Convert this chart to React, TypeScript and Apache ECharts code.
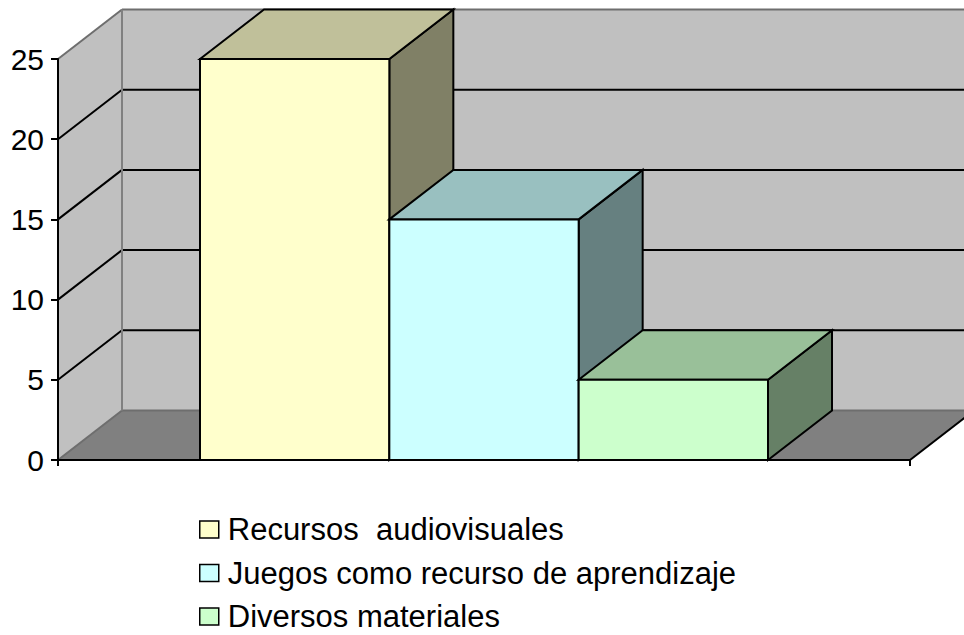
import React, { useEffect, useRef } from "react";
import * as echarts from "echarts";

const categories = [""];
const seriesNames = [
  "Recursos  audiovisuales",
  "Juegos como recurso de aprendizaje",
  "Diversos materiales",
];
const seriesValues = [25, 15, 5];
const yTicks = [0, 5, 10, 15, 20, 25];

const frontColors = ["#FFFFCC", "#CCFFFF", "#CCFFCC"];
const topColors = ["#C0C09A", "#99C0C0", "#99C099"];
const sideColors = ["#808066", "#668080", "#668066"];

const DX = 64;
const DY = -49.5;
const FONT = "'Liberation Sans', Arial, sans-serif";

export default function App() {
  const ref = useRef<HTMLDivElement>(null);

  useEffect(() => {
    if (!ref.current) return;
    const chart = echarts.init(ref.current, undefined, { renderer: "svg" });

    const wallSeries: any = {
      type: "custom",
      name: "walls",
      silent: true,
      z: 1,
      data: [[0, 0]],
      renderItem: (params: any, api: any) => {
        const cs = params.coordSys;
        const L = cs.x;
        const R = cs.x + cs.width;
        const y0 = api.coord([0, yTicks[0]])[1];
        const yT = api.coord([0, yTicks[yTicks.length - 1]])[1];
        const children: any[] = [];
        children.push({
          type: "polygon",
          shape: { points: [[L, y0], [L + DX, y0 + DY], [L + DX, yT + DY], [L, yT]] },
          style: { fill: "#C0C0C0", stroke: null },
        });
        children.push({
          type: "polygon",
          shape: { points: [[L + DX, yT + DY], [R + DX, yT + DY], [R + DX, y0 + DY], [L + DX, y0 + DY]] },
          style: { fill: "#C0C0C0", stroke: null },
        });
        children.push({
          type: "polygon",
          shape: { points: [[L, y0], [R, y0], [R + DX, y0 + DY], [L + DX, y0 + DY]] },
          style: { fill: "#808080", stroke: null },
        });
        yTicks.forEach((t, idx) => {
          const y = api.coord([0, t])[1];
          const edge = idx === 0 || idx === yTicks.length - 1;
          const col = edge ? "#6E6E6E" : "#000";
          children.push({
            type: "line",
            shape: { x1: L + DX, y1: y + DY, x2: R + DX, y2: y + DY },
            style: { stroke: col, lineWidth: 2 },
          });
          children.push({
            type: "line",
            shape: { x1: L, y1: y, x2: L + DX, y2: y + DY },
            style: { stroke: col, lineWidth: 2 },
          });
        });
        children.push({
          type: "line",
          shape: { x1: L + DX, y1: yT + DY, x2: L + DX, y2: y0 + DY },
          style: { stroke: "#808080", lineWidth: 2 },
        });
        children.push({
          type: "line",
          shape: { x1: R, y1: y0, x2: R + DX, y2: y0 + DY },
          style: { stroke: "#000", lineWidth: 2 },
        });
        return { type: "group", children };
      },
    };

    const barSeries = seriesNames.map((name, i) => ({
      type: "custom",
      name,
      z: 2,
      itemStyle: { color: frontColors[i], borderColor: "#000", borderWidth: 1.5 },
      data: [[0, seriesValues[i]]],
      renderItem: (params: any, api: any) => {
        const top = api.coord([api.value(0), api.value(1)]);
        const base = api.coord([api.value(0), 0]);
        const band = api.size([1, 0])[0];
        const bw = band / (seriesNames.length + 1.5);
        const x0 = top[0] - (seriesNames.length / 2) * bw + i * bw;
        const x1 = x0 + bw;
        const yt = top[1];
        const yb = base[1];
        const st = { stroke: "#000", lineWidth: 2, lineJoin: "miter" };
        return {
          type: "group",
          children: [
            {
              type: "polygon",
              shape: { points: [[x1, yt], [x1 + DX, yt + DY], [x1 + DX, yb + DY], [x1, yb]] },
              style: { ...st, fill: sideColors[i] },
            },
            {
              type: "polygon",
              shape: { points: [[x0, yt], [x0 + DX, yt + DY], [x1 + DX, yt + DY], [x1, yt]] },
              style: { ...st, fill: topColors[i] },
            },
            {
              type: "polygon",
              shape: { points: [[x0, yt], [x1, yt], [x1, yb], [x0, yb]] },
              style: { ...st, fill: frontColors[i] },
            },
          ],
        };
      },
    }));

    chart.setOption({
      animation: false,
      backgroundColor: "#fff",
      textStyle: { fontFamily: FONT },
      grid: { left: 58, right: 54, top: 59, bottom: 175, containLabel: false },
      xAxis: {
        type: "category",
        data: categories,
        boundaryGap: true,
        axisLine: { show: true, lineStyle: { color: "#000", width: 2 } },
        axisTick: { show: true, length: 6, lineStyle: { color: "#000", width: 2 } },
        axisLabel: { show: false },
        splitLine: { show: false },
        z: 10,
      },
      yAxis: {
        type: "value",
        min: 0,
        max: 25,
        interval: 5,
        axisLine: { show: true, lineStyle: { color: "#000", width: 2 } },
        axisTick: { show: true, length: 7, lineStyle: { color: "#000", width: 2 } },
        axisLabel: { color: "#000", fontSize: 30, fontFamily: FONT, margin: 14 },
        splitLine: { show: false },
        z: 10,
      },
      legend: {
        orient: "vertical",
        left: 199,
        top: 514,
        height: 200,
        padding: 0,
        data: seriesNames.map((n) => ({ name: n, icon: "rect" })),
        itemWidth: 19,
        itemHeight: 17,
        itemGap: 12.5,
        itemStyle: { borderColor: "#000", borderWidth: 1.5 },
        textStyle: {
          color: "#000",
          fontSize: 31,
          fontFamily: FONT,
          lineHeight: 30,
          padding: [0, 0, 0, 4],
        },
        selectedMode: false,
      },
      series: [wallSeries, ...barSeries],
    });

    return () => chart.dispose();
  }, []);

  return (
    <div
      ref={ref}
      style={{ position: "fixed", left: 0, top: 0, width: 964, height: 635, background: "#fff" }}
    />
  );
}
